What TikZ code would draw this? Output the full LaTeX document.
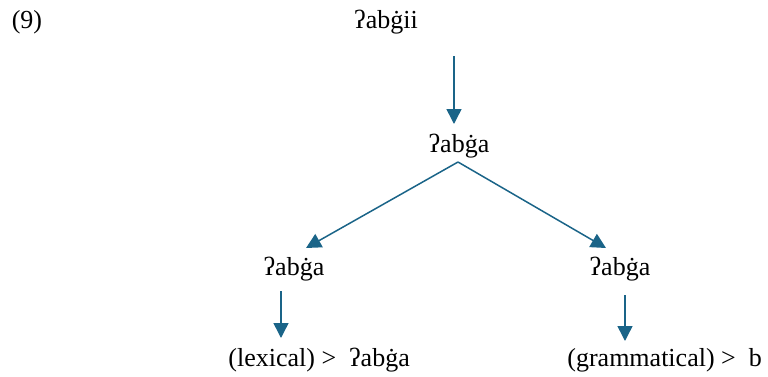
\documentclass[tikz,border=0pt]{standalone}
\usepackage{fontspec}
\setmainfont{Liberation Serif}
\usetikzlibrary{arrows.meta}
\definecolor{arrowblue}{HTML}{1A6488}
\tikzset{
  form/.style={inner sep=0pt, anchor=base, font=\fontsize{13}{15}\selectfont},
  derive/.style={draw=arrowblue, line width=0.75pt,
    -{Triangle[length=7.5pt, width=7.5pt, fill=arrowblue]}},
}
\begin{document}
\begin{tikzpicture}[x=0.5pt, y=-0.5pt]
  \useasboundingbox (0,0) rectangle (768,376);
  % example number
  \node[form] (num) at (27,28) {(9)};
  % forms
  \node[form] (root) at (386,28) {ʔabġii};
  \node[form] (mid) at (459,152) {ʔabġa};
  \node[form] (left) at (294,275) {ʔabġa};
  \node[form] (right) at (620,275) {ʔabġa};
  \node[form, anchor=base west] (lex) at (228,366) {(lexical) >~~ʔabġa};
  \node[form, anchor=base west] (gram) at (567,366) {(grammatical) >~~b};
  % arrow end points
  \coordinate (a1s) at (454,56);
  \coordinate (a1e) at (454,124);
  \coordinate (split) at (458,162);
  \coordinate (a2e) at (306,248);
  \coordinate (a3e) at (606,248);
  \coordinate (a4s) at (281,291);
  \coordinate (a4e) at (281,338);
  \coordinate (a5s) at (625,295);
  \coordinate (a5e) at (625,341);
  % derivation arrows
  \draw[derive] (a1s) -- (a1e);
  \draw[derive] (split) -- (a2e);
  \draw[derive] (split) -- (a3e);
  \draw[derive] (a4s) -- (a4e);
  \draw[derive] (a5s) -- (a5e);
\end{tikzpicture}
\end{document}
